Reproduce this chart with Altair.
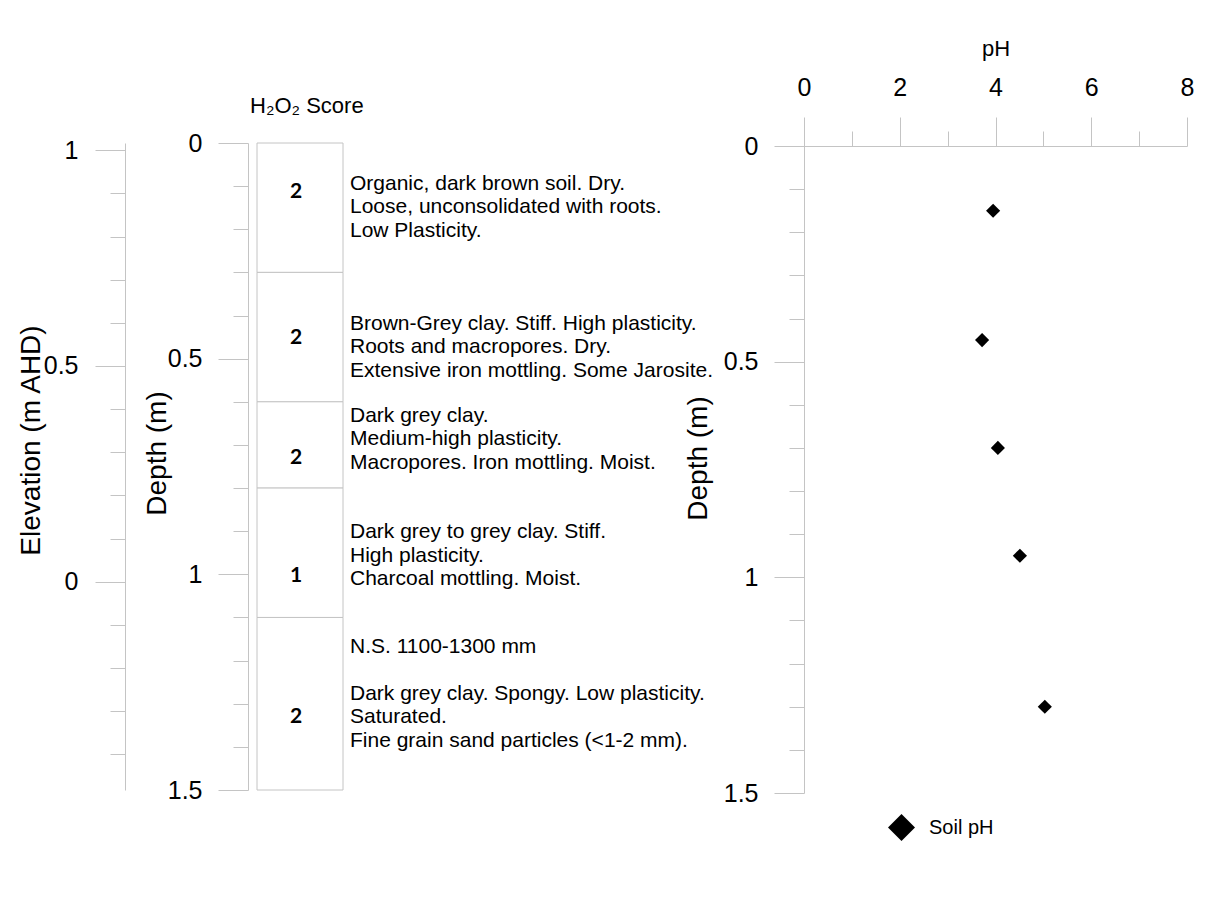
import altair as alt
import pandas as pd

# ---------------- data ----------------
layer_top = [0.0, 0.3, 0.6, 0.8, 1.1]
layer_bottom = [0.3, 0.6, 0.8, 1.1, 1.5]

h2o2_score = [2, 2, 2, 1, 2]
score_depth = [0.113, 0.453, 0.730, 1.004, 1.330]

descriptions = [
    "Organic, dark brown soil. Dry.\nLoose, unconsolidated with roots.\nLow Plasticity.",
    "Brown-Grey clay. Stiff. High plasticity.\nRoots and macropores. Dry.\nExtensive iron mottling. Some Jarosite.",
    "Dark grey clay.\nMedium-high plasticity.\nMacropores. Iron mottling. Moist.",
    "Dark grey to grey clay. Stiff.\nHigh plasticity.\nCharcoal mottling. Moist.",
    "N.S. 1100-1300 mm",
    "Dark grey clay. Spongy. Low plasticity.\nSaturated.\nFine grain sand particles (<1-2 mm).",
]
# depth of the first line of each description block
desc_depth = [0.095, 0.419, 0.632, 0.903, 1.168, 1.277]

ph_depth = [0.15, 0.45, 0.70, 0.95, 1.30]
ph_value = [3.95, 3.72, 4.05, 4.51, 5.03]
ph_series = ["Soil pH"] * 5

depth_ticks = [round(0.1 * i, 1) for i in range(0, 16)]
elev_ticks = [round(0.1 * i, 1) for i in range(-4, 11)]
ph_ticks = list(range(0, 9))

ELEV_TOP = 1.017
ELEV_BOTTOM = ELEV_TOP - 1.5

# ---------------- styles ----------------
FONT = "Liberation Sans"
GREY = "#c4c4c4"
H = 647
major_half = "abs(datum.value*2 - round(datum.value*2)) < 0.001"


def half_axis(title, offset=0, title_pad=5, title_y=310, values=depth_ticks):
    return alt.Axis(
        orient="left",
        values=values,
        format="~g",
        labelExpr=f"{major_half} ? datum.label : ''",
        tickSize={"condition": {"test": major_half, "value": 30}, "value": 15},
        labelPadding=16,
        labelOverlap=False,
        labelFlush=False,
        offset=offset,
        title=title,
        titlePadding=title_pad,
        titleY=title_y,
        titleFontSize=28,
    )


depth_scale = alt.Scale(domain=[0, 1.5], reverse=True, nice=False, zero=False)

# ---------------- panel A: elevation axis ----------------
elev_df = pd.DataFrame({"elev": elev_ticks})
elev_axis = alt.Axis(
    orient="left",
    values=elev_ticks,
    format="~g",
    labelExpr=f"{major_half} ? datum.label : ''",
    tickSize={"condition": {"test": major_half, "value": 30}, "value": 15},
    labelPadding=17,
    labelOverlap=False,
    labelFlush=False,
    title="Elevation (m AHD)",
    titlePadding=-2,
    titleY=297,
    titleFontSize=28,
)
panel_a = (
    alt.Chart(elev_df)
    .mark_point(opacity=0)
    .encode(
        y=alt.Y("elev:Q", scale=alt.Scale(domain=[ELEV_BOTTOM, ELEV_TOP], nice=False, zero=False), axis=elev_axis)
    )
    .properties(width=122, height=H)
)

# ---------------- panel B: log column ----------------
layers_df = pd.DataFrame({"top": layer_top, "bottom": layer_bottom})
score_df = pd.DataFrame({"depth": score_depth, "score": h2o2_score})
desc_df = pd.DataFrame({"depth": desc_depth, "desc": descriptions})

boxes = (
    alt.Chart(layers_df)
    .mark_rect(fill="white", stroke=GREY, strokeWidth=1)
    .encode(
        y=alt.Y("top:Q", scale=depth_scale, axis=half_axis("Depth (m)", offset=9, title_pad=-4, title_y=310)),
        y2="bottom:Q",
        x=alt.value(0),
        x2=alt.value(86),
    )
)
scores = (
    alt.Chart(score_df)
    .mark_text(font="Lato", fontSize=21, fontWeight="bold", align="center", baseline="middle", color="black")
    .encode(y=alt.Y("depth:Q", scale=depth_scale), x=alt.value(39), text="score:Q")
)
desc = (
    alt.Chart(desc_df)
    .mark_text(font=FONT, fontSize=21, align="left", baseline="middle", lineBreak="\n", lineHeight=23.5, color="black")
    .encode(y=alt.Y("depth:Q", scale=depth_scale), x=alt.value(93), text="desc:N")
)
panel_b = alt.layer(boxes, scores, desc).properties(
    width=537,
    height=H,
    title=alt.TitleParams(
        "H\u2082O\u2082 Score", anchor="start", frame="group", font=FONT, fontSize=22, fontWeight="normal",
        color="black", dx=-7, offset=13,
    ),
)

# ---------------- panel C: pH profile ----------------
ph_df = pd.DataFrame({"pH": ph_value, "depth": ph_depth, "series": ph_series})
even = "datum.value % 2 === 0"
ph_depth_scale = alt.Scale(domain=[-0.007, 1.5], reverse=True, nice=False, zero=False)
panel_c = (
    alt.Chart(ph_df)
    .mark_point(filled=True, size=200, opacity=1, color="black")
    .encode(
        x=alt.X(
            "pH:Q",
            scale=alt.Scale(domain=[0, 8], nice=False, zero=False),
            axis=alt.Axis(
                orient="top",
                offset=-3,
                values=ph_ticks,
                labelExpr=f"{even} ? datum.label : ''",
                tickSize={"condition": {"test": even, "value": 29}, "value": 15},
                labelPadding=17,
                labelOverlap=False,
                labelFlush=False,
                title="pH",
                titlePadding=15,
                titleFontSize=22,
            ),
        ),
        y=alt.Y("depth:Q", scale=ph_depth_scale, axis=half_axis("Depth (m)", title_pad=11, title_y=315)),
        shape=alt.Shape(
            "series:N",
            scale=alt.Scale(range=["diamond"]),
            legend=alt.Legend(
                title=None,
                orient="none",
                legendX=84,
                legendY=671,
                padding=0,
                symbolSize=729,
                symbolFillColor="black",
                symbolStrokeWidth=0,
                labelFont=FONT,
                labelFontSize=20,
                labelColor="black",
                labelOffset=14,
            ),
        ),
    )
    .properties(width=383, height=650)
)

chart = (
    alt.hconcat(panel_a, panel_b, panel_c, spacing=10, bounds="flush")
    .resolve_scale(x="independent", y="independent", shape="independent")
    .properties(padding={"left": 9, "top": 29, "right": 5, "bottom": 5}, background="white")
    .configure_view(stroke=None)
    .configure_axis(
        grid=False,
        domainColor=GREY,
        tickColor=GREY,
        labelFont=FONT,
        labelFontSize=25,
        labelColor="black",
        titleFont=FONT,
        titleFontSize=20,
        titleFontWeight="normal",
        titleColor="black",
    )
)

chart.save("out.html", embed_options={"renderer": "svg", "actions": False})
